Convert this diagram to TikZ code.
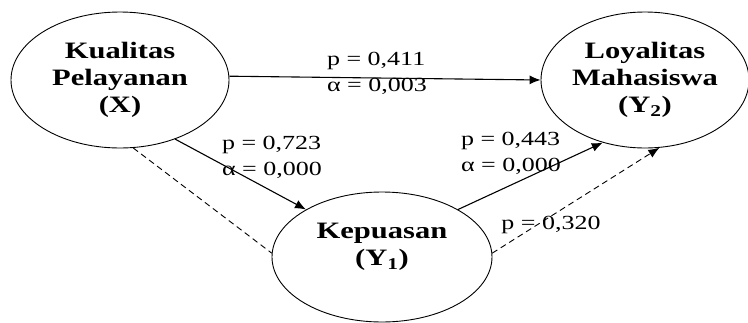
\documentclass[tikz,border=0pt]{standalone}
\usepackage{fontspec}
\setmainfont{Liberation Serif}
\newfontfamily\labfont[FakeStretch=1.3]{Liberation Serif}
\usetikzlibrary{shapes.geometric,arrows.meta}
\begin{document}
\begin{tikzpicture}[x=1pt,y=-1pt,
  latent/.style={ellipse,draw,line width=0.9pt,inner sep=0pt,align=center,
    font=\labfont\bfseries\fontsize{23.5}{27}\selectfont},
  lab/.style={align=left,inner sep=0pt,font=\labfont\fontsize{20}{26}\selectfont},
  path/.style={line width=1.1pt,-{Latex[length=11pt,width=9pt]}},
  dpath/.style={line width=0.9pt,dash pattern=on 6pt off 4pt}
]
\clip (0,0) rectangle (748,322);
\node[latent,minimum width=218pt,minimum height=136pt] (X) at (120,80) {Kualitas\\Pelayanan\\(X)};
\node[latent,minimum width=208pt,minimum height=136pt] (Y2) at (645,80) {Loyalitas\\Mahasiswa\\(Y\textsubscript{2})};
\node[latent,minimum width=220pt,minimum height=130pt] (Y1) at (382,257) {};
\node[font=\labfont\bfseries\fontsize{23.5}{27}\selectfont,align=center] (Y1t) at (382,247) {Kepuasan\\(Y\textsubscript{1})};
\draw[path] (X.2) -- (Y2.180);
\draw[path] (X.-47) -- (Y1.148);
\draw[dpath] (X.-79) -- (Y1.178);
\draw[path] (Y1.32) -- (Y2.-124);
\draw[dpath,-{Latex[length=11pt,width=9pt]}] (Y1.2) -- (Y2.-78);
\node[lab] (l1) at (377,73) {p = 0,411\\α = 0,003};
\node[lab] (l2) at (272,157) {p = 0,723\\α = 0,000};
\node[lab] (l3) at (511,153) {p = 0,443\\α = 0,000};
\node[lab] (l4) at (551,225) {p = 0,320};
\end{tikzpicture}
\end{document}
